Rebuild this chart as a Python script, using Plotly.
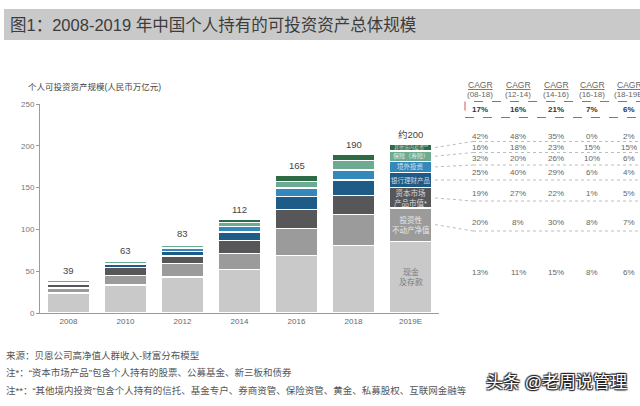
import plotly.graph_objects as go

# ---------------- data ----------------
years = ["2008", "2010", "2012", "2014", "2016", "2018", "2019E"]
totals_label = ["39", "63", "83", "112", "165", "190", "约200"]

cash = [23.9, 33.5, 43.0, 52.5, 69.0, 81.0, 86.0]
real_estate = [6.0, 11.5, 16.0, 19.0, 32.0, 37.0, 39.5]
capital_mkt = [4.0, 9.5, 9.2, 15.0, 22.5, 23.0, 24.2]
bank_wm = [1.9, 3.5, 5.4, 10.5, 16.0, 18.0, 18.7]
overseas = [0.8, 1.5, 4.2, 6.0, 10.0, 12.0, 12.7]
insurance = [2.5, 2.7, 3.6, 5.0, 8.0, 11.0, 12.7]
other = [0.3, 0.8, 1.8, 4.0, 7.5, 8.0, 8.2]

series_names = ["现金及存款", "投资性不动产净值", "资本市场产品市值*", "银行理财产品",
                "境外投资", "保险（寿险）", "其他境内投资**"]
series_values = [cash, real_estate, capital_mkt, bank_wm, overseas, insurance, other]
series_colors = ["#c9c9c9", "#9b9b9b", "#57575a", "#1e5b86", "#3488bb", "#6cab92", "#2c6b45"]
seg_labels = ["现金<br>及存款", "投资性<br>不动产净值", "资本市场<br>产品市值*", "银行理财产品",
              "境外投资", "保险（寿险）", "其他境内投资**"]
seg_label_colors = ["#7a7a7a", "#e6e6e6", "#d8d8d8", "#cfd8e0", "#d5e3ee", "#e0ece6", "#cfdcd3"]
seg_label_sizes = [8, 7.5, 7.5, 6.5, 6.5, 6, 5]

cagr_headers = ["(08-18)", "(12-14)", "(14-16)", "(16-18)", "(18-19E)"]
cagr_total = ["17%", "16%", "21%", "7%", "6%"]
# rows from top (其他境内投资) to bottom (现金及存款)
cagr_other = ["42%", "48%", "35%", "0%", "2%"]
cagr_insurance = ["16%", "18%", "23%", "15%", "15%"]
cagr_overseas = ["32%", "20%", "26%", "10%", "6%"]
cagr_bank_wm = ["25%", "40%", "29%", "6%", "4%"]
cagr_capital = ["19%", "27%", "22%", "1%", "5%"]
cagr_real_estate = ["20%", "8%", "30%", "8%", "7%"]
cagr_cash = ["13%", "11%", "15%", "8%", "6%"]

FONT = "Liberation Sans, Noto Sans CJK SC, sans-serif"

# pixel -> paper helpers (plot area: x 40..439, y 104..313)
def PX(x):
    return (x - 40) / 399.0

def PY(y):
    return (313 - y) / 209.0

xpos = list(range(len(years)))

fig = go.Figure()
for name, vals, col in zip(series_names, series_values, series_colors):
    fig.add_trace(go.Bar(x=xpos, y=vals, name=name, width=0.754,
                         marker=dict(color=col, line=dict(color="white", width=1.2))))

ann = []
shapes = []

def txt(x, y, text, size, color, xanchor="center", **kw):
    d = dict(xref="paper", yref="paper", x=PX(x), y=PY(y), xanchor=xanchor, yanchor="middle",
             text=text, showarrow=False, font=dict(size=size, color=color, family=FONT))
    d.update(kw)
    ann.append(d)

# title band
shapes.append(dict(type="rect", xref="paper", yref="paper", x0=PX(4), x1=PX(641), y0=PY(40), y1=PY(9),
                   fillcolor="#c9c9c9", line=dict(width=0), layer="below"))
txt(8, 25, "图1：2008-2019 年中国个人持有的可投资资产总体规模", 16.5, "#3c3c3c", xanchor="left")

# y axis title
txt(26, 87, "个人可投资资产规模(人民币万亿元)", 8.5, "#444", xanchor="left")

# totals above bars
for i in xpos:
    tot = sum(v[i] for v in series_values)
    ann.append(dict(x=i, y=tot, xref="x", yref="y", xanchor="center", yanchor="bottom", yshift=2,
                    text=totals_label[i], showarrow=False, font=dict(size=9.5, color="#444", family=FONT)))

# labels inside 2019E bar
last = len(years) - 1
base = 0.0
mids = []
for k, vals in enumerate(series_values):
    v = vals[last]
    mid = base + v / 2.0
    mids.append(mid)
    ann.append(dict(x=last, y=mid, xref="x", yref="y", xanchor="center", yanchor="middle",
                    text=seg_labels[k], showarrow=False,
                    font=dict(size=seg_label_sizes[k], color=seg_label_colors[k], family=FONT)))
    base += v

# table rows (top to bottom)
rows = [cagr_other, cagr_insurance, cagr_overseas, cagr_bank_wm, cagr_capital, cagr_real_estate, cagr_cash]
row_y = [136, 147, 158, 172, 193, 222, 272]
line_end_y = [141.5, 152.5, 165, 180, 201, 231]
seg_index_for_row = [6, 5, 4, 3, 2, 1]
col_x = [480, 518, 556, 592, 629]

for r, ly in enumerate(line_end_y):
    k = seg_index_for_row[r]
    y0 = mids[k] / 250.0
    shapes.append(dict(type="line", xref="paper", yref="paper", x0=PX(435), y0=y0, x1=PX(473), y1=PY(ly),
                       line=dict(color="#bdbdbd", width=1, dash="dot")))
    shapes.append(dict(type="line", xref="paper", yref="paper", x0=PX(473), y0=PY(ly), x1=PX(645), y1=PY(ly),
                       line=dict(color="#bdbdbd", width=1, dash="dot")))

for c, cx in enumerate(col_x):
    txt(cx, 85, "<u>CAGR</u>", 8.5, "#666")
    txt(cx, 94, cagr_headers[c], 8, "#666")
    txt(cx, 109.5, "<b>" + cagr_total[c] + "</b>", 8, "#333")
    for r, row in enumerate(rows):
        txt(cx, row_y[r], row[c], 8, "#666")

# red dashed box
shapes.append(dict(type="rect", xref="paper", yref="paper", x0=PX(465), x1=PX(646), y0=PY(117.5), y1=PY(101.5),
                   line=dict(color="#d9534f", width=1, dash="dash")))

# footnotes
foot = [
    ("来源：贝恩公司高净值人群收入-财富分布模型", 355),
    ("注*：“资本市场产品”包含个人持有的股票、公募基金、新三板和债券", 372),
    ("注**：“其他境内投资”包含个人持有的信托、基金专户、券商资管、保险资管、黄金、私募股权、互联网金融等", 390),
]
for t, y in foot:
    txt(4, y, t, 9.5, "#555", xanchor="left")

# watermark (white text with dark outline via text shadow)
txt(629, 382, "头条 @老周说管理", 17, "white", xanchor="right")
ann[-1]["font"]["shadow"] = "1px 1px 1px #222, -1px -1px 1px #222, 1px -1px 1px #222, -1px 1px 1px #222"

fig.update_layout(
    width=640, height=406,
    margin=dict(l=40, r=201, t=104, b=93, pad=0),
    barmode="stack",
    plot_bgcolor="white", paper_bgcolor="white",
    showlegend=False,
    font=dict(family=FONT),
    annotations=ann, shapes=shapes,
    xaxis=dict(type="linear", range=[-0.5, 6.5], tickmode="array", tickvals=xpos, ticktext=years,
               showline=True, linecolor="#9a9a9a", linewidth=1, ticks="", showgrid=False, zeroline=False,
               tickfont=dict(size=8, color="#666")),
    yaxis=dict(type="linear", range=[0, 250], tickmode="array", tickvals=[0, 50, 100, 150, 200, 250],
               showline=True, linecolor="#9a9a9a",
               linewidth=1, ticks="outside", ticklen=3, tickcolor="#9a9a9a", showgrid=False, zeroline=False,
               tickfont=dict(size=8, color="#777")),
)

fig.write_html("out.html", config={"displayModeBar": False},
               post_script="document.body.style.margin='0px';")
